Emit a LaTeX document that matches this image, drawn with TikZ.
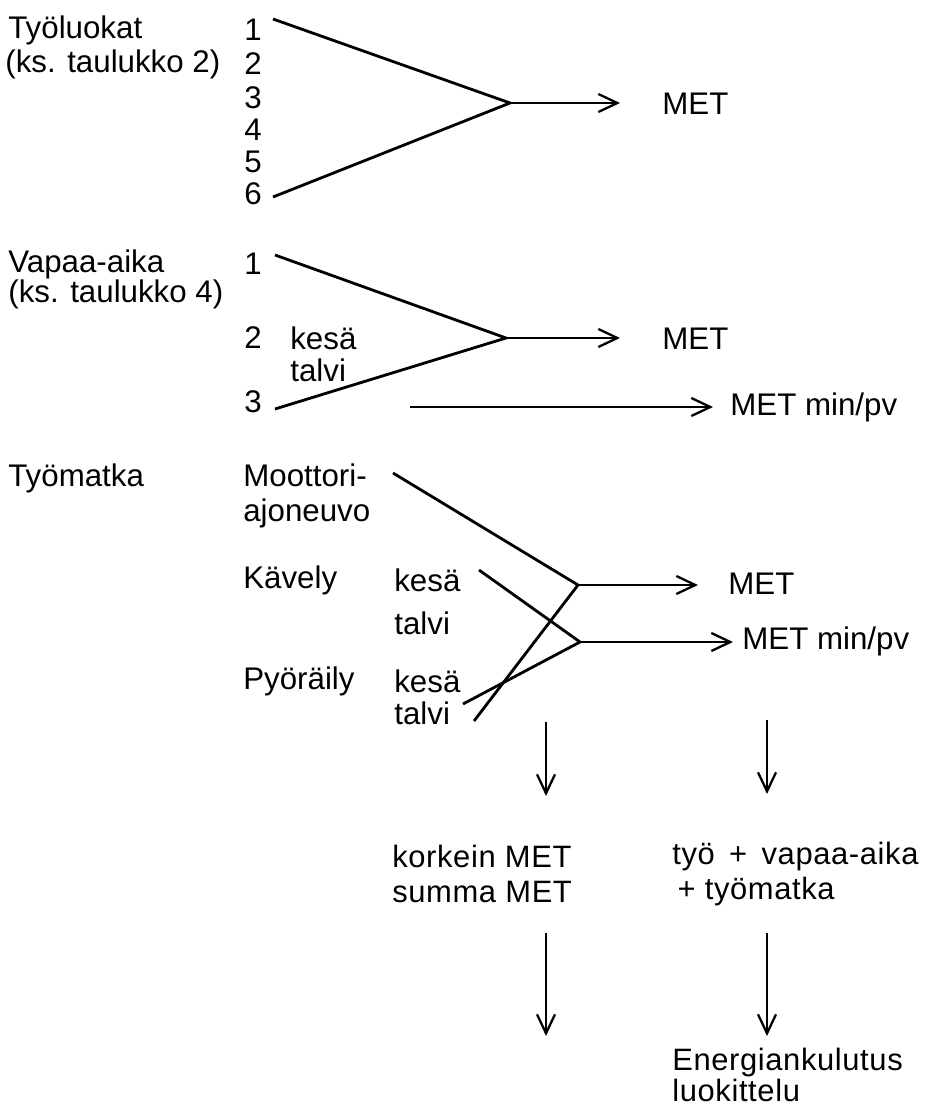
\documentclass[tikz,border=0pt]{standalone}
\usepackage{fontspec}
\setmainfont{Liberation Sans}
\newfontfamily\widefont[LetterSpace=2]{Liberation Sans}
\usepackage{tikz}
\usetikzlibrary{arrows.meta,calc}

\tikzset{
  lbl/.style={anchor=west, inner sep=0pt},
  bot/.style={anchor=west, inner sep=0pt, align=left, font=\fontsize{17.6}{20}\widefont},
  ln/.style={line width=1.6pt},
  >={Straight Barb[length=3.8mm,width=3.6mm,line width=1.3pt]}
}

\begin{document}
\begin{tikzpicture}[x=0.02cm, y=-0.02cm, font=\fontsize{17.8}{20}\selectfont]
        \useasboundingbox (0,0) rectangle (930,1108);

        % Tyoluokat
        \node[lbl] (tyoluokat) at (8,30) {Työluokat};
        \node[lbl] (taulukko2) at (5,64) {(ks. taulukko 2)};
        \foreach \n/\y in {1/30,2/64,3/98,4/130,5/162,6/194}
            \node[lbl] (t\n) at (244,\y) {\n};
        \coordinate (a1) at (273,19);
        \coordinate (a6) at (273,197);
        \coordinate (j1) at (510,103);
        \node[lbl] (met1) at (662,104) {MET};
        \draw[ln] (a1) -- (j1) -- (a6);
        \draw[ln,->] (j1) -- ($(met1.west)+(-42,-1)$);

        % Vapaa-aika
        \node[lbl] (vapaa) at (8,264) {Vapaa-aika};
        \node[lbl] (taulukko4) at (8,294) {(ks. taulukko 4)};
        \node[lbl] (v1) at (244,264) {1};
        \node[lbl] (v2) at (244,338) {2};
        \node[lbl] (v3) at (244,402) {3};
        \node[lbl] (vkesa) at (290,338) {kesä};
        \node[lbl] (vtalvi) at (290,370) {talvi};
        \coordinate (b1) at (275,255);
        \coordinate (b3) at (275,409);
        \coordinate (j2) at (506,338);
        \node[lbl] (met2) at (662,339) {MET};
        \node[lbl] (minpv2) at (730,407) {MET min/pv};
        \coordinate (c0) at (410,407);
        \draw[ln] (b1) -- (j2) -- (b3);
        \draw[ln,->] (j2) -- ($(met2.west)+(-42,-1)$);
        \draw[ln,->] (c0) -- ($(minpv2.west)+(-17,0)$);

        % Tyomatka
        \node[lbl] (tyomatka) at (8,478) {Työmatka};
        \node[lbl, align=left] (moottori) at (243,496) {Moottori-\\ajoneuvo};
        \node[lbl] (kavely) at (243,580) {Kävely};
        \node[lbl] (kkesa) at (394,580) {kesä};
        \node[lbl] (ktalvi) at (394,623) {talvi};
        \node[lbl] (pyoraily) at (243,681) {Pyöräily};
        \node[lbl] (pkesa) at (394,681) {kesä};
        \node[lbl] (ptalvi) at (394,713) {talvi};
        \coordinate (m0) at (393,473);
        \coordinate (k0) at (479,570);
        \coordinate (p1) at (463,704);
        \coordinate (p2) at (474,721);
        \coordinate (j3) at (578,585);
        \coordinate (j4) at (580,642);
        \node[lbl] (met3) at (728,584) {MET};
        \node[lbl] (minpv3) at (742,641) {MET min/pv};
        \draw[ln] (m0) -- (j3) -- (p2);
        \draw[ln] (k0) -- (j4) -- (p1);
        \draw[ln,->] (j3) -- ($(met3.west)+(-30,1)$);
        \draw[ln,->] (j4) -- ($(minpv3.west)+(-9,1)$);

        % yhteenveto
        \node[bot] (korkein) at (392,874) {korkein MET\\summa MET};
        \node[bot] (summa) at (672,874) {työ \,+\, vapaa-aika\\\hspace{3pt}+ työmatka};
        \node[bot, font=\fontsize{17.6}{17.5}\widefont] (energia) at (672,1075) {Energiankulutus\\luokittelu};
        \coordinate (d1) at (546,722);
        \coordinate (d2) at (767,720);
        \coordinate (f1) at (546,933);
        \coordinate (f2) at (767,933);
        \coordinate (e1) at (546,1036);
        \coordinate (e2) at (767,1036);
        \draw[ln,->] (d1) -- (d1 |- 0,796);
        \draw[ln,->] (d2) -- (d2 |- 0,794);
        \draw[ln,->] (f1) -- (e1);
        \draw[ln,->] (f2) -- (e2);
    \end{tikzpicture}
\end{document}
